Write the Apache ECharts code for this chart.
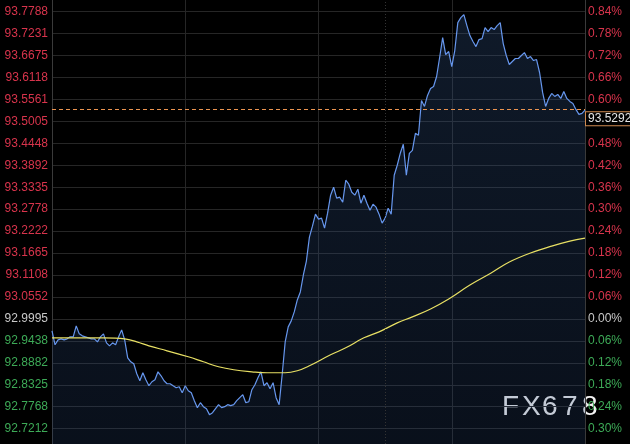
<!DOCTYPE html>
<html><head><meta charset="utf-8">
<script src="https://cdn.jsdelivr.net/npm/echarts@6/dist/echarts.min.js"></script>
<style>html,body{margin:0;padding:0;background:#000;}#c{width:630px;height:444px;}</style>
</head><body><div id="c"></div>
<script>
// Tick labels (top to bottom)
const priceTicks = ['93.7788','93.7231','93.6675','93.6118','93.5561','93.5005','93.4448','93.3892','93.3335','93.2778','93.2222','93.1665','93.1108','93.0552','92.9995','92.9438','92.8882','92.8325','92.7768','92.7212'];
const pctTicks = ['0.84%','0.78%','0.72%','0.66%','0.60%','0.54%','0.48%','0.42%','0.36%','0.30%','0.24%','0.18%','0.12%','0.06%','0.00%','0.06%','0.12%','0.18%','0.24%','0.30%'];
const basePrice = 92.9995;
const lastPrice = 93.5292;

// Price samples across the session (177 samples)
const prices = [
92.9692,92.9338,92.9464,92.9489,92.9464,92.9489,92.9540,92.9540,92.9818,92.9616,
92.9565,92.9540,92.9515,92.9489,92.9489,92.9413,92.9540,92.9616,92.9388,92.9312,
92.9388,92.9338,92.9540,92.9717,92.9464,92.9009,92.8907,92.8857,92.8604,92.8427,
92.8629,92.8452,92.8300,92.8401,92.8452,92.8654,92.8553,92.8427,92.8351,92.8351,
92.8300,92.8250,92.8275,92.8123,92.8300,92.8174,92.8123,92.7921,92.7744,92.7870,
92.7769,92.7718,92.7567,92.7617,92.7718,92.7820,92.7744,92.7769,92.7820,92.7794,
92.7820,92.7921,92.7997,92.8073,92.7870,92.7895,92.8199,92.8326,92.8503,92.8654,
92.8300,92.8376,92.8224,92.8376,92.7997,92.7820,92.8579,92.9413,92.9793,92.9945,
93.0172,93.0476,93.0678,93.1109,93.1463,93.2070,93.2348,93.2652,93.2525,93.2551,
93.2298,93.2677,93.3133,93.3335,93.3057,93.3082,93.2955,93.3512,93.3411,93.3208,
93.3133,93.3284,93.2930,93.3133,93.2930,93.2753,93.2905,93.2829,93.2652,93.2424,
93.2551,93.2804,93.2652,93.3639,93.3892,93.4195,93.4423,93.3639,93.4195,93.4271,
93.4701,93.4651,93.5536,93.5384,93.5663,93.5840,93.5890,93.6143,93.6624,93.7130,
93.6700,93.6776,93.6396,93.6801,93.7509,93.7636,93.7712,93.7434,93.7181,93.7029,
93.6902,93.7079,93.7105,93.7383,93.7282,93.7383,93.7332,93.7434,93.7509,93.6978,
93.6675,93.6447,93.6523,93.6599,93.6599,93.6675,93.6750,93.6599,93.6649,93.6548,
93.6573,93.6244,93.5738,93.5384,93.5587,93.5713,93.5637,93.5688,93.5587,93.5764,
93.5587,93.5511,93.5460,93.5308,93.5182,93.5207,93.5292
];

// Moving average (sample index, value)
const maIndex = [0,10,17,24,28,32,38,45,50,55,60,66,71,77,81,85,92,97,103,108,114,119,125,131,138,145,151,158,165,171,176];
const maValues = [92.9515,92.9515,92.9515,92.9489,92.9413,92.9312,92.9186,92.9034,92.8907,92.8781,92.8705,92.8654,92.8629,92.8629,92.8680,92.8806,92.9085,92.9262,92.9515,92.9666,92.9894,93.0046,93.0248,93.0501,93.0856,93.1159,93.1437,93.1665,93.1842,93.1969,93.2045];

const sessionMarkIndex = 110;

const tickVals = priceTicks.map(parseFloat);
const topP = tickVals[0];
const botP = tickVals[tickVals.length - 1];
const step = (topP - botP) / (tickVals.length - 1);
// axis range extends a little beyond the outer labelled ticks
const yMax = topP + step * 0.53;
const yMin = botP - step * 0.7;

function tickIndex(v) {
  let best = 0, bd = Infinity;
  tickVals.forEach((t, i) => { const d = Math.abs(t - v); if (d < bd) { bd = d; best = i; } });
  return best;
}
function labelColor(v) {
  const d = v - basePrice;
  if (Math.abs(d) < step / 4) return '#c8c8c8';
  return d > 0 ? '#d8344c' : '#3daa57';
}

const chart = echarts.init(document.getElementById('c'), null, {renderer: 'canvas'});
chart.setOption({
  animation: false,
  backgroundColor: '#000',
  grid: {left: 52, right: 45, top: 0, bottom: 0},
  xAxis: {
    type: 'value', min: 0, max: prices.length - 1, interval: 44,
    axisLine: {show: false}, axisTick: {show: false}, axisLabel: {show: false},
    splitLine: {show: true, lineStyle: {color: '#262626', width: 1}}
  },
  yAxis: [{
    type: 'value', position: 'left', min: yMin, max: yMax,
    axisLine: {show: true, lineStyle: {color: '#3a3a3a'}},
    axisTick: {show: false, customValues: tickVals},
    splitLine: {show: true, lineStyle: {color: '#262626', width: 1}},
    axisLabel: {
      customValues: tickVals, margin: 4,
      fontFamily: 'Liberation Sans', fontSize: 12,
      formatter: v => priceTicks[tickIndex(v)],
      color: v => labelColor(v)
    }
  }, {
    type: 'value', position: 'right', min: yMin, max: yMax,
    axisLine: {show: true, lineStyle: {color: '#3a3a3a'}},
    axisTick: {show: false, customValues: tickVals},
    splitLine: {show: false},
    axisLabel: {
      customValues: tickVals, margin: 3,
      fontFamily: 'Liberation Sans', fontSize: 12,
      formatter: v => pctTicks[tickIndex(v)],
      color: v => labelColor(v)
    }
  }],
  series: [{
    type: 'line', yAxisIndex: 0,
    data: prices.map((p, i) => [i, p]),
    symbol: 'none',
    lineStyle: {color: '#6797ee', width: 1.2},
    areaStyle: {
      origin: 'start',
      color: new echarts.graphic.LinearGradient(0, 0, 0, 1, [
        {offset: 0, color: 'rgba(52,88,140,0.42)'},
        {offset: 1, color: 'rgba(40,70,120,0.32)'}
      ])
    },
    markLine: {
      silent: true, symbol: 'none', animation: false,
      data: [{
        yAxis: lastPrice,
        lineStyle: {color: '#ec9450', type: [4, 3], width: 1, opacity: 1},
        label: {
          show: true, position: 'end', distance: 1,
          formatter: lastPrice.toFixed(4),
          color: '#e6e6e6', fontFamily: 'Liberation Sans', fontSize: 12,
          backgroundColor: '#000', borderColor: '#d08a50', borderWidth: 1,
          padding: [1, 2, 0, 2], offset: [0, 9]
        }
      }, {
        xAxis: sessionMarkIndex,
        lineStyle: {color: '#333', type: [1, 2], width: 1},
        label: {show: false}
      }]
    },
    z: 2
  }, {
    type: 'line', yAxisIndex: 0,
    data: maIndex.map((x, i) => [x, maValues[i]]),
    symbol: 'none', smooth: 0.4,
    lineStyle: {color: '#e8e064', width: 1.2},
    z: 3
  }],
  graphic: [{
    type: 'group', left: 502, top: 393, z: 100,
    children: 'FX678'.split('').map((ch, i) => ({
      type: 'text', x: i * 20, y: 0,
      style: {text: ch, fill: '#f2f2f2', font: '28px "Liberation Sans"'}
    }))
  }]
});
</script>
</body></html>
